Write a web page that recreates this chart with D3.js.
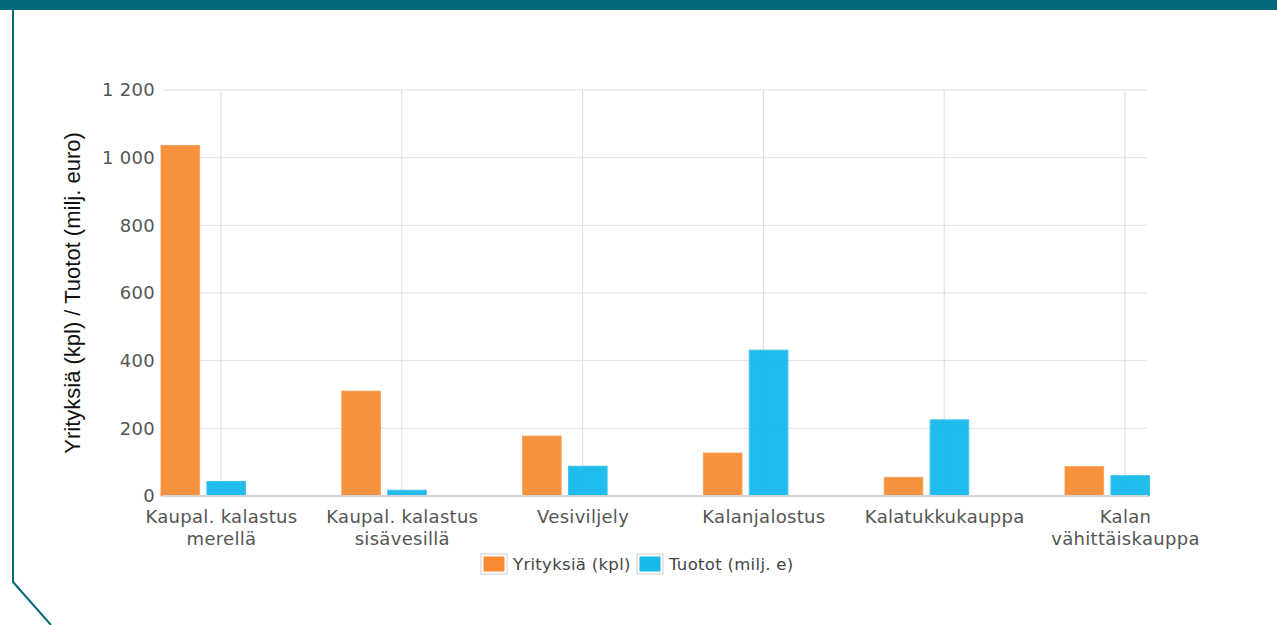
<!DOCTYPE html>
<html>
<head>
<meta charset="utf-8">
<script src="https://cdn.jsdelivr.net/npm/d3@7"></script>
<style>
  body { margin: 0; background: #fff; overflow: hidden; }
  .tick text { font-family: "DejaVu Sans", Verdana, sans-serif; }
</style>
</head>
<body>
<div class="chart"></div>
<script>
// data
var categories = ["Kaupal. kalastus merellä", "Kaupal. kalastus sisävesillä", "Vesiviljely",
                  "Kalanjalostus", "Kalatukkukauppa", "Kalan vähittäiskauppa"];
var categoryLines = [["Kaupal. kalastus", "merellä"], ["Kaupal. kalastus", "sisävesillä"], ["Vesiviljely"],
                     ["Kalanjalostus"], ["Kalatukkukauppa"], ["Kalan", "vähittäiskauppa"]];
var seriesNames = ["Yrityksiä (kpl)", "Tuotot (milj. e)"];
var yrityksia = [1036, 310, 177, 127, 55, 87];
var tuotot = [43, 17, 88, 431, 225, 60];
var yTicks = [0, 200, 400, 600, 800, 1000, 1200];

var width = 1277;
var height = 625;
var colors = ["#f68b33", "#14b8ea"];
var strokes = ["#f9a259", "#3cc4ef"];

var svg = d3.select(".chart")
            .append("svg")
            .attr("width", width)
            .attr("height", height);

// frame
svg.append("rect").attr("x", 0).attr("y", 0).attr("width", width).attr("height", 10).attr("fill", "#026a7b");
svg.append("path")
   .attr("d", "M13,0 L13,582 L51,625")
   .attr("fill", "none")
   .attr("stroke", "#026a7b")
   .attr("stroke-width", 2);

var plotLeft = 163, plotRight = 1147, plotTop = 90, plotBottom = 496;

var yScale = d3.scaleLinear().domain([0, 1200]).range([plotBottom, plotTop]);
// category centre positions (label / vertical grid)
var xScale = d3.scalePoint().domain(categories).range([221, 1125]);
// bars sit left of the label position
var xSub = d3.scaleBand().domain(seriesNames).range([-60, 24.5]).paddingInner(0.16);

var fi = d3.formatLocale({decimal: ",", thousands: " ", grouping: [3], currency: ["", ""]}).format(",d");

// horizontal grid
svg.append("g")
   .selectAll("line")
   .data(yTicks.slice(1))
   .enter()
   .append("line")
   .attr("x1", plotLeft).attr("x2", plotRight)
   .attr("y1", d => yScale(d)).attr("y2", d => yScale(d))
   .attr("stroke", "#e0e0e0").attr("stroke-width", 1);

// vertical grid
svg.append("g")
   .selectAll("line")
   .data(categories)
   .enter()
   .append("line")
   .attr("x1", d => xScale(d)).attr("x2", d => xScale(d))
   .attr("y1", plotTop).attr("y2", plotBottom)
   .attr("stroke", "#dcdcdc").attr("stroke-width", 1);

// bars
var series = [yrityksia, tuotot];
series.forEach(function(vals, s) {
  svg.append("g")
     .selectAll("rect")
     .data(vals)
     .enter()
     .append("rect")
     .attr("x", (d, i) => xScale(categories[i]) + xSub(seriesNames[s]))
     .attr("y", d => yScale(d))
     .attr("width", xSub.bandwidth())
     .attr("height", d => plotBottom - yScale(d))
     .attr("fill", colors[s])
     .attr("fill-opacity", 0.95)
     .attr("stroke", strokes[s])
     .attr("stroke-width", 1);
});

// zero line
svg.append("line")
   .attr("x1", plotLeft).attr("x2", plotRight + 1)
   .attr("y1", plotBottom).attr("y2", plotBottom)
   .attr("stroke", "#d4d4d4").attr("stroke-width", 2);

// y axis
var yAxis = d3.axisLeft(yScale).tickValues(yTicks).tickFormat(fi).tickSize(0).tickPadding(8);
var gy = svg.append("g")
   .attr("transform", "translate(" + plotLeft + ",0)")
   .call(yAxis);
gy.select(".domain").remove();
gy.selectAll("text").attr("fill", "#555").style("font-size", "18px").style("letter-spacing", "0.3px");

// x axis labels
var xAxis = d3.axisBottom(xScale).tickSize(0).tickFormat("");
var gx = svg.append("g")
   .attr("transform", "translate(0," + plotBottom + ")")
   .call(xAxis);
gx.select(".domain").remove();
gx.selectAll(".tick").each(function(d, i) {
  var t = d3.select(this).append("text")
            .attr("fill", "#555")
            .attr("text-anchor", "middle")
            .style("font-size", "18px")
            .style("letter-spacing", "0.3px")
            .style("font-family", "'DejaVu Sans', Verdana, sans-serif");
  categoryLines[i].forEach(function(line, j) {
    t.append("tspan").attr("x", 0).attr("y", 27 + j * 22).text(line);
  });
});

// y title
svg.append("text")
   .attr("transform", "translate(80," + ((plotTop + plotBottom) / 2) + ") rotate(-90)")
   .attr("text-anchor", "middle")
   .style("font-family", "'Liberation Sans', Arial, sans-serif")
   .style("font-size", "22px")
   .attr("fill", "#111")
   .text("Yrityksiä (kpl) / Tuotot (milj. euro)");

// legend
var legendX = [481, 637];
var lg = svg.append("g").attr("transform", "translate(0,564)");
seriesNames.forEach(function(name, s) {
  var g = lg.append("g").attr("transform", "translate(" + legendX[s] + ",0)");
  g.append("rect").attr("x", 0).attr("y", -10).attr("width", 26).attr("height", 20)
   .attr("fill", "#fff").attr("stroke", "#d0d0d0").attr("stroke-width", 1);
  g.append("rect").attr("x", 2.5).attr("y", -7.5).attr("width", 21).attr("height", 15)
   .attr("fill", colors[s]);
  g.append("text").attr("x", 32).attr("y", 6)
   .style("font-family", "'DejaVu Sans', Verdana, sans-serif")
   .style("font-size", "16.5px")
   .style("letter-spacing", "0.3px")
   .attr("fill", "#444")
   .text(name);
});
</script>
</body>
</html>
